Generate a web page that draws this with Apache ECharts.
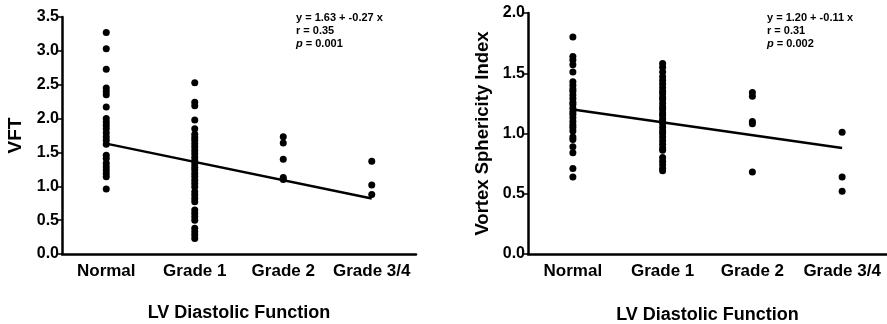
<!DOCTYPE html>
<html>
<head>
<meta charset="utf-8">
<script src="https://cdn.jsdelivr.net/npm/echarts@6/dist/echarts.min.js"></script>
<style>
  html, body { margin: 0; padding: 0; background: #fff; }
  #main { width: 887px; height: 324px; }
</style>
</head>
<body>
<div id="main"></div>
<script>
const categories = ["Normal", "Grade 1", "Grade 2", "Grade 3/4"];

// VFT (left panel)
const vftNormal = [3.27, 3.03, 2.73, 2.45, 2.40, 2.35, 2.17, 2.00, 1.95, 1.90, 1.85, 1.79, 1.73, 1.68, 1.62,
  1.46, 1.41, 1.34, 1.29, 1.24, 1.19, 1.14, 0.96];
const vftGrade1 = [2.53, 2.24, 2.19, 1.98, 1.85, 1.77, 1.72, 1.68, 1.63, 1.58, 1.53, 1.48, 1.43, 1.38, 1.33,
  1.28, 1.24, 1.19, 1.14, 1.09, 1.04, 0.99, 0.92, 0.87, 0.82, 0.77, 0.65, 0.60, 0.55, 0.50, 0.38, 0.33, 0.28, 0.23];
const vftGrade2 = [1.73, 1.64, 1.40, 1.13, 1.10];
const vftGrade34 = [1.37, 1.02, 0.88];
const vftFit = [1.63, 0.82]; // Normal -> Grade 3/4
const vftTicks = ["0.0", "0.5", "1.0", "1.5", "2.0", "2.5", "3.0", "3.5"];

// Vortex sphericity index (right panel)
const vsiNormal = [1.80, 1.64, 1.61, 1.57, 1.51, 1.43, 1.40, 1.37, 1.35, 1.32, 1.29, 1.26, 1.24, 1.21, 1.18,
  1.16, 1.13, 1.10, 1.07, 1.05, 1.02, 0.97, 0.95, 0.89, 0.84, 0.71, 0.64];
const vsiGrade1 = [1.58, 1.55, 1.51, 1.47, 1.44, 1.41, 1.38, 1.35, 1.33, 1.30, 1.28, 1.25, 1.22, 1.20, 1.17,
  1.15, 1.12, 1.10, 1.08, 1.05, 1.02, 1.00, 0.97, 0.94, 0.91, 0.88, 0.86, 0.80, 0.77, 0.74, 0.71, 0.69];
const vsiGrade2 = [1.34, 1.31, 1.10, 1.08, 0.68];
const vsiGrade34 = [1.01, 0.64, 0.52];
const vsiFit = [1.20, 0.88];
const vsiTicks = ["0.0", "0.5", "1.0", "1.5", "2.0"];

const FONT = "Liberation Sans, Arial, sans-serif";

function points(groups) {
  const out = [];
  groups.forEach((vals, i) => vals.forEach(v => out.push([i, v])));
  return out;
}

function xAxisFor(gridIndex, nameGap) {
  return {
    type: "category",
    gridIndex: gridIndex,
    data: categories,
    boundaryGap: true,
    name: "LV Diastolic Function",
    nameLocation: "middle",
    nameGap: nameGap,
    nameTextStyle: { fontFamily: FONT, fontWeight: "bold", fontSize: 18, color: "#000" },
    axisLine: { lineStyle: { color: "#000", width: 2.5 } },
    axisTick: { alignWithLabel: true, length: 4, lineStyle: { color: "#000", width: 1.5 } },
    axisLabel: { fontFamily: FONT, fontWeight: "bold", fontSize: 17, color: "#000", margin: 9, interval: 0 },
    splitLine: { show: false }
  };
}

function yAxisFor(gridIndex, max, name, ticks, nameGap, nameSize) {
  return {
    type: "value",
    gridIndex: gridIndex,
    min: 0,
    max: max,
    interval: 0.5,
    name: name,
    nameLocation: "middle",
    nameGap: nameGap,
    nameTextStyle: { fontFamily: FONT, fontWeight: "bold", fontSize: nameSize, color: "#000" },
    axisLine: { show: true, lineStyle: { color: "#000", width: 2.5 } },
    axisTick: { show: true, length: 4, lineStyle: { color: "#000", width: 1.5 } },
    axisLabel: {
      fontFamily: FONT, fontWeight: "bold", fontSize: 16, color: "#000", margin: 3,
      formatter: v => ticks[Math.round(v / 0.5)]
    },
    splitLine: { show: false }
  };
}

function annotation(left, top, lines) {
  return {
    type: "text",
    left: left,
    top: top,
    style: {
      text: lines.join("\n"),
      fontFamily: FONT,
      fontWeight: "bold",
      fontSize: 11,
      lineHeight: 13,
      fill: "#000",
      rich: { i: { fontStyle: "italic", fontWeight: "bold", fontFamily: FONT, fontSize: 11 } }
    }
  };
}

const dotStyle = { color: "#000", opacity: 1 };

const chart = echarts.init(document.getElementById("main"));
chart.setOption({
  animation: false,
  backgroundColor: "#fff",
  grid: [
    { left: 62, top: 17, width: 354, height: 237, outerBoundsMode: "none", containLabel: false },
    { left: 528, top: 13, width: 359, height: 241, outerBoundsMode: "none", containLabel: false }
  ],
  xAxis: [xAxisFor(0, 50), xAxisFor(1, 52)],
  yAxis: [
    yAxisFor(0, 3.5, "VFT", vftTicks, 37, 19),
    yAxisFor(1, 2.0, "Vortex Sphericity Index", vsiTicks, 36, 18.5)
  ],
  graphic: [
    annotation(296, 11, ["y = 1.63 + -0.27 x", "r = 0.35", "{i|p} = 0.001"]),
    annotation(767, 11, ["y = 1.20 + -0.11 x", "r = 0.31", "{i|p} = 0.002"])
  ],
  series: [
    {
      type: "scatter", xAxisIndex: 0, yAxisIndex: 0,
      symbol: "circle", symbolSize: 7, itemStyle: dotStyle,
      data: points([vftNormal, vftGrade1, vftGrade2, vftGrade34])
    },
    {
      type: "line", xAxisIndex: 0, yAxisIndex: 0, symbol: "none",
      lineStyle: { color: "#000", width: 2.5 },
      data: [[0, vftFit[0]], [3, vftFit[1]]]
    },
    {
      type: "scatter", xAxisIndex: 1, yAxisIndex: 1,
      symbol: "circle", symbolSize: 7, itemStyle: dotStyle,
      data: points([vsiNormal, vsiGrade1, vsiGrade2, vsiGrade34])
    },
    {
      type: "line", xAxisIndex: 1, yAxisIndex: 1, symbol: "none",
      lineStyle: { color: "#000", width: 2.5 },
      data: [[0, vsiFit[0]], [3, vsiFit[1]]]
    }
  ]
});
</script>
</body>
</html>
